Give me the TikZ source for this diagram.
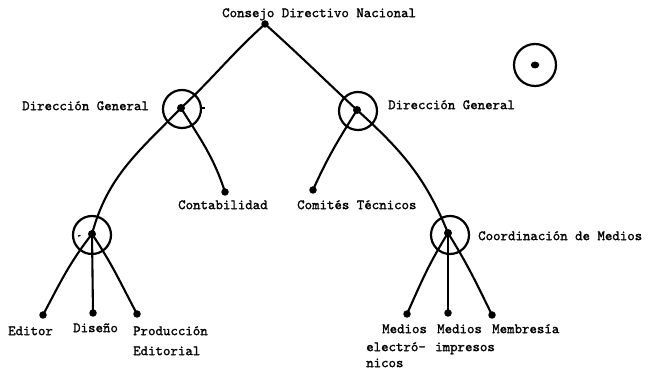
\documentclass[tikz,border=0pt]{standalone}
\usepackage{fontspec}
\usetikzlibrary{shapes.geometric}
\newfontfamily\twfont{lmmono10-regular.otf}[FakeBold=1.4]
\begin{document}
\begin{tikzpicture}[x=1pt,y=1pt,
  dot/.style={circle,fill=black,inner sep=0pt,minimum size=7.5pt},
  bigdot/.style={circle,fill=black,inner sep=0pt,minimum size=8pt},
  ring/.style={circle,draw=black,line width=2.2pt,inner sep=0pt,minimum size=38pt},
  link/.style={line width=2.1pt,line cap=round},
  tick/.style={line width=1.3pt},
  lbl/.style={font=\twfont\fontsize{14.2}{16}\selectfont,inner sep=0pt,anchor=mid west}]
\useasboundingbox (0,0) rectangle (651,-371);

% branching points
\node[dot]    (top)   at (265,-24)  {};
\node[bigdot] (dgl)   at (181,-108) {};
\node[ring]   (dglr)  at (182,-109) {};
\node[bigdot] (dgr)   at (357,-110) {};
\node[ring]   (dgrr)  at (358,-111) {};
\node[bigdot] (pub)   at (92,-234)  {};
\node[ring]   (pubr)  at (92,-235)  {};
\node[bigdot] (coord) at (448,-233) {};
\node[ring]   (coordr) at (450,-235) {};

% leaves
\node[dot] (conta) at (225,-192) {};
\node[dot] (comi)  at (313,-190) {};
\node[dot] (ed)    at (43,-315)  {};
\node[dot] (dis)   at (93,-313)  {};
\node[dot] (pe)    at (137,-314) {};
\node[dot] (me)    at (407,-314) {};
\node[dot] (mi)    at (448,-313) {};
\node[dot] (mm)    at (492,-315) {};

% legend symbol
\node[ring,minimum size=42pt] (lone) at (535,-65) {};
\node[ellipse,fill=black,inner sep=0pt,minimum width=8.5pt,minimum height=7pt] (lonedot) at (535,-65) {};

% main arcs
\draw[link] (top.center) to[out=222,in=43] (dgl.center) to[out=226,in=75] (pub.center);
\draw[link] (top.center) to[out=-42,in=137] (dgr.center) to[out=-42,in=112] (coord.center);

% side branches
\draw[link] (dgl.center) to[out=-58,in=108] (conta.center);
\draw[link] (dgr.center) to[out=238,in=66] (comi.center);

% lower branches
\draw[link] (pub.center) to[out=232,in=62] (ed.center);
\draw[link] (pub.center) -- (dis.center);
\draw[link] (pub.center) to[out=-56,in=118] (pe.center);
\draw[link] (coord.center) to[out=238,in=66] (me.center);
\draw[link] (coord.center) -- (mi.center);
\draw[link] (coord.center) to[out=-58,in=116] (mm.center);

% small pen marks on the rings
\draw[tick] (dglr.east) ++(0,1) -- ++(3,0);
\draw[tick] (pubr.center) ++(-14,-1) -- ++(2.5,0.5);

% labels
\node[lbl] (l0) at (222,-15) {Consejo Directivo Nacional};
\node[lbl] (l1) at (22,-108) {Dirección General};
\node[lbl] (l2) at (388,-107) {Dirección General};
\node[lbl] (l3) at (178,-207) {Contabilidad};
\node[lbl] (l4) at (297,-207) {Comités Técnicos};
\node[lbl] (l5) at (478,-238) {Coordinación de Medios};
\node[lbl] (l6) at (8,-333) {Editor};
\node[lbl] (l7) at (73,-330) {Diseño};
\node[lbl] (l8) at (133,-333) {Producción};
\node[lbl] (l9) at (133,-353) {Editorial};
\node[lbl] (l10) at (382,-331) {Medios};
\node[lbl] (l11) at (366,-349) {electró-};
\node[lbl] (l12) at (366,-365) {nicos};
\node[lbl] (l13) at (437,-331) {Medios};
\node[lbl] (l14) at (435,-349) {impresos};
\node[lbl] (l15) at (492,-331) {Membresía};
\end{tikzpicture}
\end{document}
